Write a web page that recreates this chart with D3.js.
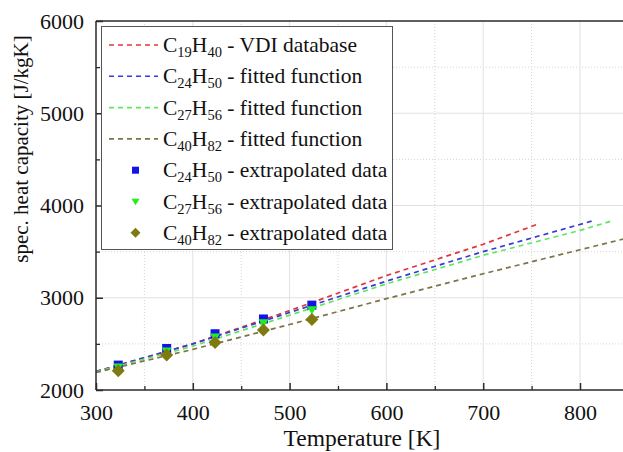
<!DOCTYPE html>
<html>
<head>
<meta charset="utf-8">
<script src="https://cdn.jsdelivr.net/npm/d3@7"></script>
<style>
  html, body { margin: 0; padding: 0; background: #fff; }
  svg { display: block; }
  svg text { font-family: "Liberation Serif", "Times New Roman", serif !important; fill: #111; }
</style>
</head>
<body>
<svg id="chart" width="623" height="452"></svg>
<script>
// Temperature grid (K) and specific heat capacity (J/kgK) for each curve
const vdiC19T   = [300, 400, 500, 600, 700, 757];
const vdiC19Cp  = [2200, 2500, 2860, 3240, 3580, 3800];

const fitC24T   = [300, 400, 500, 600, 700, 812];
const fitC24Cp  = [2200, 2500, 2840, 3180, 3500, 3830];

const fitC27T   = [300, 400, 500, 600, 700, 800, 832];
const fitC27Cp  = [2195, 2475, 2810, 3150, 3460, 3730, 3830];

const fitC40T   = [300, 400, 500, 600, 700, 800, 850];
const fitC40Cp  = [2190, 2440, 2710, 2990, 3260, 3520, 3650];

// Extrapolated data points
const extrapT   = [323, 373, 423, 473, 523];
const extrC24Cp = [2270, 2450, 2610, 2770, 2920];
const extrC27Cp = [2250, 2425, 2575, 2730, 2870];
const extrC40Cp = [2210, 2380, 2515, 2650, 2765];

// Axis ticks
const xTicks = [300, 400, 500, 600, 700, 800];
const yTicks = [2000, 3000, 4000, 5000, 6000];
const xMinorTicks = [350, 450, 550, 650, 750, 850];
const yMinorTicks = [2500, 3500, 4500, 5500];

// Legend labels: [text, isSubscript]
const legendLabels = [
  [["C", 0], ["19", 1], ["H", 0], ["40", 1], [" - VDI database", 0]],
  [["C", 0], ["24", 1], ["H", 0], ["50", 1], [" - fitted function", 0]],
  [["C", 0], ["27", 1], ["H", 0], ["56", 1], [" - fitted function", 0]],
  [["C", 0], ["40", 1], ["H", 0], ["82", 1], [" - fitted function", 0]],
  [["C", 0], ["24", 1], ["H", 0], ["50", 1], [" - extrapolated data", 0]],
  [["C", 0], ["27", 1], ["H", 0], ["56", 1], [" - extrapolated data", 0]],
  [["C", 0], ["40", 1], ["H", 0], ["82", 1], [" - extrapolated data", 0]]
];

const colRed = "#e0363a", colBlue = "#3a3ad8", colGreen = "#5ee65e", colOlive = "#7d7448";
const mkBlue = "#1414e6", mkGreen = "#1ef01e", mkOlive = "#7f7a10";
const serif = '"Liberation Serif", "Times New Roman", serif';

const svg = d3.select("#chart");
const L = 96, R = 628.4, T = 21, B = 390;

const x = d3.scaleLinear().domain([300, 850]).range([L, R]);
const y = d3.scaleLinear().domain([2000, 6000]).range([B, T]);

// Grid
const grid = svg.append("g");
grid.selectAll(".gxm").data(xMinorTicks).join("line")
  .attr("x1", d => x(d)).attr("x2", d => x(d)).attr("y1", T).attr("y2", B)
  .attr("stroke", "#d4d4d4").attr("stroke-width", 1).attr("stroke-dasharray", "1,2");
grid.selectAll(".gym").data(yMinorTicks).join("line")
  .attr("x1", L).attr("x2", R).attr("y1", d => y(d)).attr("y2", d => y(d))
  .attr("stroke", "#d4d4d4").attr("stroke-width", 1).attr("stroke-dasharray", "1,2");
grid.selectAll(".gx").data(xTicks.filter(d => d > 300)).join("line")
  .attr("x1", d => x(d)).attr("x2", d => x(d)).attr("y1", T).attr("y2", B)
  .attr("stroke", "#e2e2e2").attr("stroke-width", 1);
grid.selectAll(".gy").data(yTicks.filter(d => d > 2000 && d < 6000)).join("line")
  .attr("x1", L).attr("x2", R).attr("y1", d => y(d)).attr("y2", d => y(d))
  .attr("stroke", "#e2e2e2").attr("stroke-width", 1);

// Dashed curves
const line = d3.line().x(d => x(d[0])).y(d => y(d[1]));
const curves = [
  [vdiC19T, vdiC19Cp, colRed],
  [fitC24T, fitC24Cp, colBlue],
  [fitC27T, fitC27Cp, colGreen],
  [fitC40T, fitC40Cp, colOlive]
];
const curveG = svg.append("g");
curves.forEach(([ts, cs, c]) => {
  curveG.append("path")
    .datum(d3.zip(ts, cs))
    .attr("d", line)
    .attr("fill", "none")
    .attr("stroke", c)
    .attr("stroke-width", 1.7)
    .attr("stroke-dasharray", "5,4");
});

// Markers
const triDown = "M-5,-3.4L5,-3.4L0,4.8Z";
const markG = svg.append("g");
markG.selectAll(".mb").data(d3.zip(extrapT, extrC24Cp)).join("rect")
  .attr("x", d => x(d[0]) - 4.5).attr("y", d => y(d[1]) - 4.5)
  .attr("width", 9).attr("height", 9).attr("fill", mkBlue);
markG.selectAll(".mg").data(d3.zip(extrapT, extrC27Cp)).join("path")
  .attr("transform", d => `translate(${x(d[0])},${y(d[1])})`)
  .attr("d", triDown).attr("fill", mkGreen);
markG.selectAll(".mo").data(d3.zip(extrapT, extrC40Cp)).join("path")
  .attr("transform", d => `translate(${x(d[0])},${y(d[1])})`)
  .attr("d", "M0,-6.5L6.5,0L0,6.5L-6.5,0Z").attr("fill", mkOlive);

// Frame
const frame = svg.append("g").attr("stroke", "#2a2a2a").attr("stroke-width", 1.5);
frame.append("line").attr("x1", L).attr("x2", R).attr("y1", B).attr("y2", B);
frame.append("line").attr("x1", L).attr("x2", L).attr("y1", T).attr("y2", B);
frame.append("line").attr("x1", L).attr("x2", R).attr("y1", T).attr("y2", T);

// Axes with inward ticks
const xAxis = svg.append("g").attr("transform", `translate(0,${B})`)
  .call(d3.axisBottom(x).tickValues(xTicks).tickSize(-7).tickPadding(14).tickFormat(d3.format("d")));
xAxis.attr("font-family", serif);
xAxis.select(".domain").remove();
xAxis.selectAll(".tick line").attr("stroke", "#2a2a2a").attr("stroke-width", 1.5);
xAxis.selectAll("text").attr("font-size", 22).style("font-family", serif).attr("fill", "#111");
svg.append("g").attr("transform", `translate(0,${B})`)
  .call(d3.axisBottom(x).tickValues(xMinorTicks).tickSize(-4).tickFormat(""))
  .call(g => g.select(".domain").remove())
  .selectAll(".tick line").attr("stroke", "#2a2a2a").attr("stroke-width", 1.3);

const yAxis = svg.append("g").attr("transform", `translate(${L},0)`)
  .call(d3.axisLeft(y).tickValues(yTicks).tickSize(-7).tickPadding(12).tickFormat(d3.format("d")));
yAxis.attr("font-family", serif);
yAxis.select(".domain").remove();
yAxis.selectAll(".tick line").attr("stroke", "#2a2a2a").attr("stroke-width", 1.5);
yAxis.selectAll("text").attr("font-size", 22).style("font-family", serif).attr("fill", "#111");
svg.append("g").attr("transform", `translate(${L},0)`)
  .call(d3.axisLeft(y).tickValues(yMinorTicks).tickSize(-4).tickFormat(""))
  .call(g => g.select(".domain").remove())
  .selectAll(".tick line").attr("stroke", "#2a2a2a").attr("stroke-width", 1.3);

// Axis titles
svg.append("text").attr("x", 362).attr("y", 446).attr("text-anchor", "middle")
  .attr("font-size", 23.5).text("Temperature [K]");
svg.append("text").attr("transform", "translate(28,149) rotate(-90)").attr("text-anchor", "middle")
  .attr("font-size", 21).text("spec. heat capacity [J/kgK]");

// Legend
const lg = svg.append("g");
lg.append("rect").attr("x", 101.5).attr("y", 26.5).attr("width", 291).attr("height", 223)
  .attr("fill", "#fff").attr("stroke", "#555").attr("stroke-width", 1);
const rowY = i => 45 + i * 31.3;
const legendSwatch = [
  {type: "line", color: colRed}, {type: "line", color: colBlue},
  {type: "line", color: colGreen}, {type: "line", color: colOlive},
  {type: "square", color: mkBlue}, {type: "tri", color: mkGreen}, {type: "diamond", color: mkOlive}
];
legendSwatch.forEach((s, i) => {
  const cy = rowY(i);
  if (s.type === "line") {
    lg.append("line").attr("x1", 109).attr("x2", 158).attr("y1", cy).attr("y2", cy)
      .attr("stroke", s.color).attr("stroke-width", 1.6).attr("stroke-dasharray", "5,4");
  } else if (s.type === "square") {
    lg.append("rect").attr("x", 132).attr("y", cy - 3.5).attr("width", 7).attr("height", 7).attr("fill", s.color);
  } else if (s.type === "tri") {
    lg.append("path").attr("transform", `translate(135.5,${cy})`).attr("d", "M-4,-2.8L4,-2.8L0,3.8Z").attr("fill", s.color);
  } else {
    lg.append("path").attr("transform", `translate(135.5,${cy})`).attr("d", "M0,-5L5,0L0,5L-5,0Z").attr("fill", s.color);
  }
  const t = lg.append("text").attr("x", 163).attr("y", cy + 7).attr("font-size", 21.5);
  legendLabels[i].forEach(([str, sub], k) => {
    const prevSub = k > 0 && legendLabels[i][k - 1][1];
    const sp = t.append("tspan").text(str);
    if (sub) sp.attr("font-size", 14.5).attr("dy", 5);
    else if (prevSub) sp.attr("dy", -5);
  });
});
</script>
</body>
</html>
